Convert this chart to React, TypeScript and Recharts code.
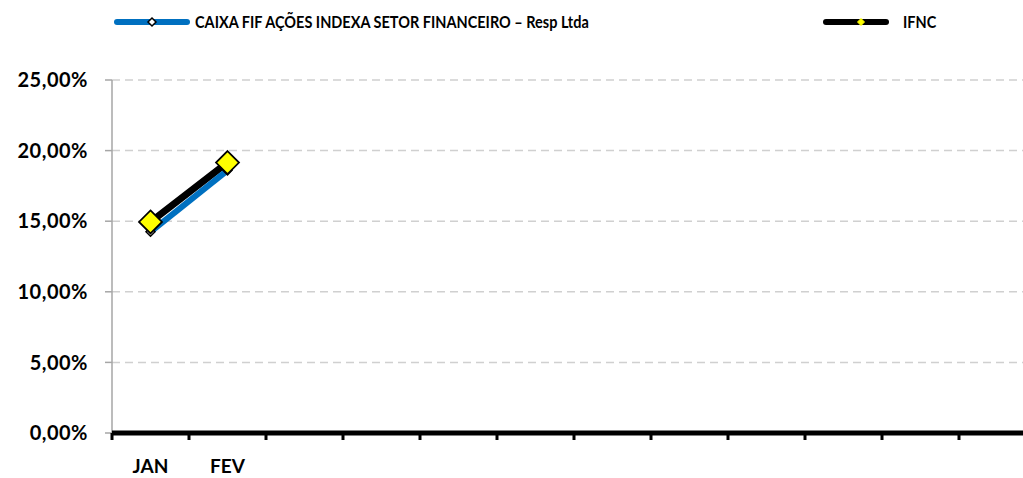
import React from 'react';
import { LineChart, Line, XAxis, YAxis, CartesianGrid } from 'recharts';

const months = ['JAN', 'FEV', 'MAR', 'ABR', 'MAI', 'JUN', 'JUL', 'AGO', 'SET', 'OUT', 'NOV', 'DEZ'];
const categoryLabels = ['JAN', 'FEV', '', '', '', '', '', '', '', '', '', ''];
const fundValues: (number | null)[] = [14.25, 18.6];
const ifncValues: (number | null)[] = [14.95, 19.15];
const yTicks = [0, 5, 10, 15, 20, 25];
const fundName = 'CAIXA FIF AÇÕES INDEXA SETOR FINANCEIRO – Resp Ltda';
const ifncName = 'IFNC';

const data = months.map((m, i) => ({
  x: i + 0.5,
  month: m,
  fund: fundValues[i] ?? null,
  ifnc: ifncValues[i] ?? null,
}));

const boundaryTicks = months.map((_, i) => i).concat([months.length]);
const centerTicks = months.map((_, i) => i + 0.5);

const FONT = 'Lato, "Open Sans", sans-serif';

const makeDiamond = (r: number, fill: string, stroke: string, sw: number) => (props: any) => {
  const { cx, cy, value, index } = props;
  if (cx == null || cy == null || value == null) return <g key={`e-${index}`} />;
  return (
    <path
      key={`d-${index}`}
      d={`M${cx},${cy - r} L${cx + r},${cy} L${cx},${cy + r} L${cx - r},${cy} Z`}
      fill={fill}
      stroke={stroke}
      strokeWidth={sw}
    />
  );
};

const fmtPct = (v: number) => `${v.toFixed(2).replace('.', ',')}%`;

const legendText: React.CSSProperties = {
  position: 'absolute',
  top: 12,
  fontWeight: 700,
  fontSize: 17,
  lineHeight: '20px',
  color: '#000',
  whiteSpace: 'nowrap',
  transform: 'scaleX(0.853)',
  transformOrigin: 'left center',
};

export default function App() {
  return (
    <div style={{ position: 'absolute', left: 0, top: 0, width: 1023, height: 478, overflow: 'hidden', background: '#fff', fontFamily: FONT }}>
      <div style={{ position: 'absolute', left: 0, top: 0, width: 1023, height: 40 }}>
        <svg width={1023} height={40} style={{ position: 'absolute', left: 0, top: 0 }}>
          <line x1={117} y1={22} x2={187} y2={22} stroke="#0070C0" strokeWidth={6} strokeLinecap="round" />
          <path d="M152,18 L156,22 L152,26 L148,22 Z" fill="#fff" stroke="#000" strokeWidth={1.5} />
          <line x1={826} y1={22} x2={886} y2={22} stroke="#000" strokeWidth={6} strokeLinecap="round" />
          <path d="M861,18.5 L864.5,22 L861,25.5 L857.5,22 Z" fill="#FFFF00" stroke="#FFFF00" strokeWidth={1} />
        </svg>
        <div style={{ ...legendText, left: 195 }}>{fundName}</div>
        <div style={{ ...legendText, left: 903 }}>{ifncName}</div>
      </div>
      <LineChart width={1050} height={478} data={data} margin={{ top: 80, right: 14, left: 0, bottom: 0 }} style={{ position: 'absolute', left: 0, top: 0 }}>
        <CartesianGrid xAxisId="a" vertical={false} stroke="#d0d0d0" strokeDasharray="8 5" strokeWidth={1.5} />
        <YAxis
          width={112}
          type="number"
          domain={[0, 25]}
          ticks={yTicks}
          tickFormatter={fmtPct}
          axisLine={{ stroke: '#a6a6a6', strokeWidth: 1.5 }}
          tickLine={{ stroke: '#a6a6a6', strokeWidth: 1.5 }}
          tickSize={7}
          tickMargin={17}
          tick={{ fill: '#000', fontSize: 20, fontWeight: 700, fontFamily: FONT, letterSpacing: 0.5 }}
          interval={0}
        />
        <XAxis
          xAxisId="a"
          dataKey="x"
          type="number"
          domain={[0, months.length]}
          ticks={boundaryTicks}
          tickFormatter={() => ''}
          axisLine={{ stroke: '#000', strokeWidth: 5 }}
          tickLine={{ stroke: '#000', strokeWidth: 3 }}
          tickSize={7}
          height={10}
          interval={0}
        />
        <XAxis
          xAxisId="b"
          dataKey="x"
          type="number"
          domain={[0, months.length]}
          ticks={centerTicks}
          tickFormatter={(v: number) => categoryLabels[Math.floor(v)] ?? ''}
          axisLine={false}
          tickLine={false}
          tickSize={0}
          tickMargin={17}
          height={35}
          interval={0}
          tick={{ fill: '#000', fontSize: 19, fontWeight: 700, fontFamily: FONT }}
        />
        <Line
          xAxisId="a"
          dataKey="ifnc"
          name={ifncName}
          stroke="#000"
          strokeWidth={7}
          strokeLinecap="round"
          dot={false}
          activeDot={false}
          isAnimationActive={false}
          connectNulls={false}
        />
        <Line
          xAxisId="a"
          dataKey="fund"
          name={fundName}
          stroke="#0070C0"
          strokeWidth={6}
          dot={makeDiamond(4.5, '#fff', '#000', 1.5)}
          activeDot={false}
          isAnimationActive={false}
          connectNulls={false}
        />
        <Line
          xAxisId="a"
          dataKey="ifnc"
          name={ifncName + ' marcador'}
          stroke="none"
          strokeWidth={0}
          dot={makeDiamond(11.5, '#FFFF00', '#000', 1.75)}
          activeDot={false}
          legendType="none"
          isAnimationActive={false}
        />
      </LineChart>
    </div>
  );
}
